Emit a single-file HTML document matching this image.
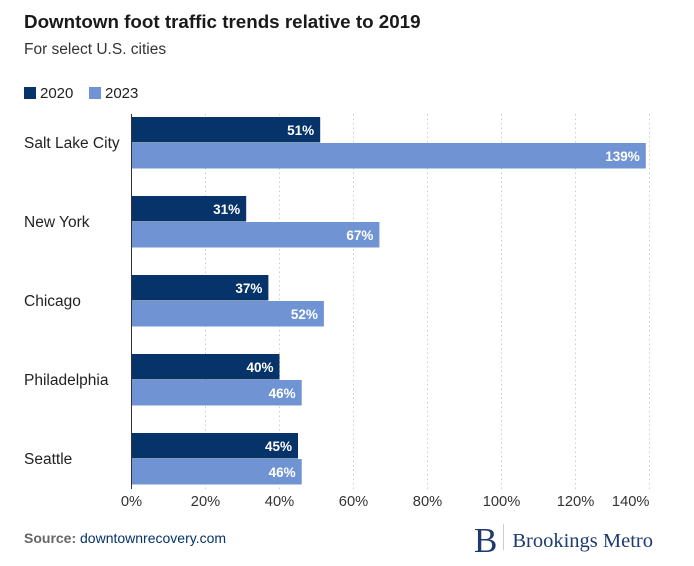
<!DOCTYPE html>
<html><head><meta charset="utf-8"><style>
body{margin:0;background:#fff;font-family:"Liberation Sans",sans-serif;}
#c{position:relative;width:694px;height:566px;overflow:hidden;}
.t{position:absolute;white-space:nowrap;}
</style></head><body>
<div id="c">
<div class="t" style="left:24px;top:11px;font-size:18.8px;font-weight:bold;color:#1a1a1a;">Downtown foot traffic trends relative to 2019</div>
<div class="t" style="left:24px;top:41px;font-size:15.5px;color:#333;">For select U.S. cities</div>
<div class="t" style="left:24px;top:85px;font-size:15px;color:#222;"><span style="display:inline-block;width:12px;height:12px;background:#05336a;vertical-align:-1px;margin-right:4px"></span>2020</div>
<div class="t" style="left:89px;top:85px;font-size:15px;color:#222;"><span style="display:inline-block;width:12px;height:12px;background:#7094d3;vertical-align:-1px;margin-right:4px"></span>2023</div>
<svg id="s" width="694" height="566" style="position:absolute;left:0;top:0"></svg>
<div class="t" style="left:24px;top:530px;font-size:14px;color:#666;"><b>Source:</b> <span style="color:#05336a">downtownrecovery.com</span></div>
<div class="t" style="left:474px;top:521px;font-family:'Liberation Serif',serif;color:#1d3a6e;">
<span style="font-size:35px;vertical-align:-5px">B</span><span style="display:inline-block;width:1px;height:26px;background:#ccc;margin:0 8px 0 6px;vertical-align:-3px"></span><span style="font-size:20.5px">Brookings Metro</span></div>
</div>
<script>
const categories=["Salt Lake City","New York","Chicago","Philadelphia","Seattle"];
const values2020=[51,31,37,40,45];
const values2023=[139,67,52,46,46];
const ticks=[0,20,40,60,80,100,120,140];
const NS="http://www.w3.org/2000/svg";
const svg=document.getElementById('s');
const x0=131.5,k=3.7;
const xs=v=>x0+v*k;
const rowY=i=>117+i*79;
function el(t,a){const e=document.createElementNS(NS,t);for(const n in a)e.setAttribute(n,a[n]);svg.appendChild(e);return e;}
ticks.forEach((t,i)=>{
 if(t>0){const g=el('line',{x1:xs(t),x2:xs(t),y1:114,y2:490,stroke:'#ccc','stroke-dasharray':'1.5,3'});
 
 }
 const last=i===ticks.length-1;
 const tx=el('text',{x:xs(t),y:506,'font-size':14.7,fill:'#333','text-anchor':last?'end':'middle','font-family':'Liberation Sans, sans-serif'});
 tx.textContent=t+'%';
 
 
});
categories.forEach((c,i)=>{
 const y=rowY(i);
 const lb=el('text',{x:24,y:y+31,'font-size':15.5,fill:'#222','font-family':'Liberation Sans, sans-serif'});
 lb.textContent=c;
 
 
 [[values2020[i],'#05336a',0,'2020'],[values2023[i],'#7094d3',26,'2023']].forEach(([v,col,dy,yr])=>{
  const r=el('rect',{x:x0,y:y+dy,width:xs(v)-x0,height:25.5,fill:col});
  
  
  const t=el('text',{x:xs(v)-6,y:y+dy+18,'font-size':13.5,'font-weight':'bold',fill:'#fff','text-anchor':'end','font-family':'Liberation Sans, sans-serif'});
  t.textContent=v+'%';
  
  
 });
});
const ax=el('line',{x1:x0,x2:x0,y1:114,y2:489,stroke:'#333','stroke-width':1});


</script>
</body></html>
